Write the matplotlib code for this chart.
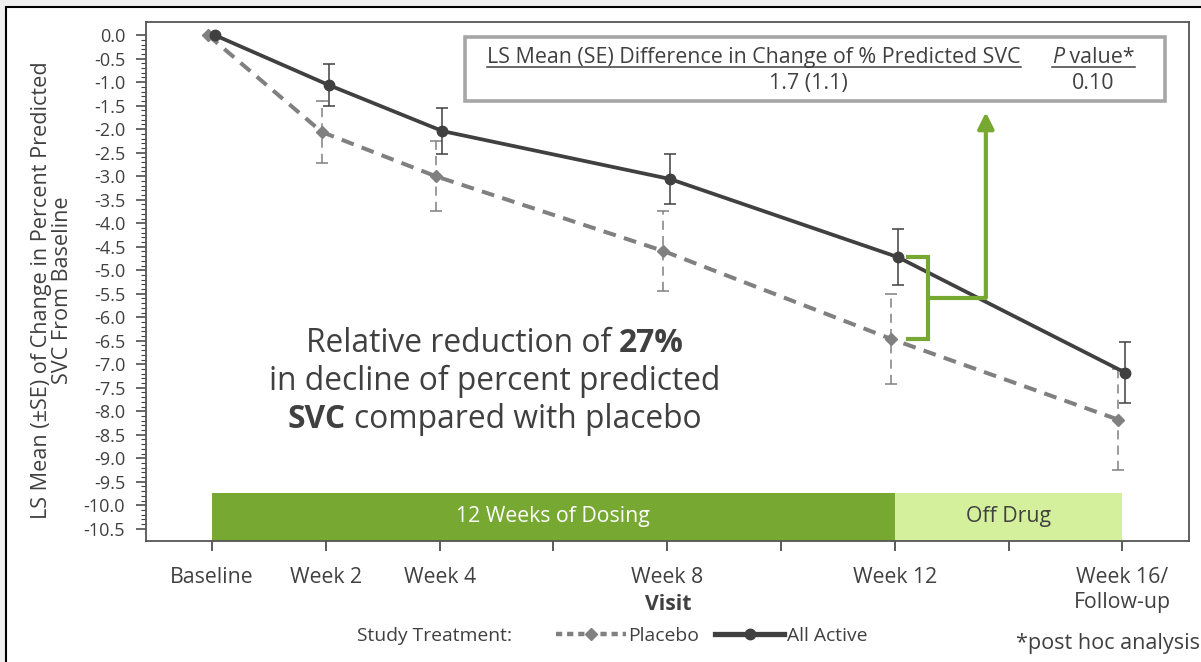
import numpy as np
import matplotlib.pyplot as plt
from matplotlib.lines import Line2D
from matplotlib.patches import Rectangle
from matplotlib.transforms import offset_copy

plt.rcParams['font.family'] = ['Open Sans', 'DejaVu Sans']

# data
weeks = [0, 2, 4, 8, 12, 16]
week_labels = ['Baseline', 'Week 2', 'Week 4', 'Week 8', 'Week 12', 'Week 16/\nFollow-up']
active_mean = [0.0, -1.06, -2.04, -3.06, -4.72, -7.18]
active_se = [0.0, 0.45, 0.49, 0.54, 0.60, 0.65]
placebo_mean = [0.0, -2.06, -3.00, -4.59, -6.46, -8.18]
placebo_se = [0.0, 0.66, 0.75, 0.86, 0.96, 1.08]
phase_start = [0, 12]
phase_end = [12, 16]
phase_names = ['12 Weeks of Dosing', 'Off Drug']

dark = '#404040'
grey = '#808080'
green = '#76a832'
light_green = '#d4f09c'

fig = plt.figure(figsize=(12.01, 6.62), dpi=100, facecolor='#f0f0f0')
# white panel with a black frame (picture is a crop of a framed slide)
fig.patches.append(Rectangle((6 / 1201, -0.1), 1.2, 1.1 - 7 / 662, transform=fig.transFigure,
                             facecolor='white', edgecolor='black', lw=1.5, zorder=-10))
ax = fig.add_axes([146 / 1201, 1 - 541 / 662, 1043 / 1201, 519 / 662])
ax.set_facecolor('white')

ylo, yhi = -10.76, 0.28
ax.set_xlim(-1.16, 17.17)
ax.set_ylim(ylo, yhi)

w = np.array(weeks, dtype=float)
am = np.array(active_mean)
pm = np.array(placebo_mean)

# phase bars
for s, e, name in zip(phase_start, phase_end, phase_names):
    col = green if s == 0 else light_green
    ax.bar(s, -9.73 - ylo, width=e - s, bottom=ylo, align='edge', color=col, zorder=1)
    ax.text((s + e) / 2, (-9.73 + ylo) / 2, name, ha='center', va='center', fontsize=15.3,
            color='white' if s == 0 else dark, zorder=2)

# placebo
px = w - 0.07
ax.plot(px, pm, color=grey, lw=2.9, dashes=(3.2, 2.1), marker='D', ms=6.5, zorder=4)
eb = ax.errorbar(px[1:], pm[1:], yerr=placebo_se[1:], fmt='none', ecolor=grey, elinewidth=1.1,
                 capsize=4.5, capthick=1.1, zorder=3)
eb[2][0].set_linestyle((0, (6, 4)))

# active
ax_ = w + 0.05
ax.plot(ax_, am, color=dark, lw=2.7, marker='o', ms=7.5, zorder=6)
ax.errorbar(ax_[1:], am[1:], yerr=active_se[1:], fmt='none', ecolor=dark, elinewidth=1.1,
            capsize=4.5, capthick=1.1, zorder=5)

# green bracket + arrow
top, bot = am[4], pm[4]
mid = (top + bot) / 2
ax.plot([12.23, 12.58, 12.58, 12.23], [top, top, bot, bot], color=green, lw=3,
        solid_joinstyle='miter', zorder=7)
ax.plot([12.58, 13.6], [mid, mid], color=green, lw=3, zorder=7, solid_capstyle='butt')
ax.annotate('', xy=(13.6, -1.64), xytext=(13.6, mid),
            arrowprops=dict(arrowstyle='-|>', lw=3, color=green, mutation_scale=24,
                            shrinkA=0, shrinkB=0), zorder=7)

# axes styling
for sp in ax.spines.values():
    sp.set_color('#555555')
    sp.set_linewidth(1.3)
ax.set_xticks(np.arange(0, 17, 2))
ax.set_xticklabels(['' if t not in weeks else week_labels[weeks.index(t)] for t in range(0, 17, 2)])
ax.set_yticks(np.arange(0, -10.51, -0.5))
ax.set_yticklabels(['%.1f' % v for v in np.arange(0, -10.51, -0.5)])
ax.set_yticks(np.arange(0, -10.51, -0.1), minor=True)
ax.tick_params(axis='x', length=7, width=1.2, color=dark, labelcolor=dark, labelsize=15.3, pad=12)
ax.tick_params(axis='y', which='major', length=7, width=1.1, color=dark, labelcolor=dark,
               labelsize=13, pad=8)
ax.tick_params(axis='y', which='minor', length=3.5, width=0.8, color=dark)

fig.text(668 / 1201, 1 - 604 / 662, 'Visit', ha='center', va='center', fontsize=15.3,
         fontweight='bold', color=dark)
fig.text(52 / 1201, 1 - 290 / 662,
         'LS Mean (±SE) of Change in Percent Predicted\nSVC From Baseline',
         rotation=90, ha='center', va='center', multialignment='center', fontsize=15.6,
         color=dark, linespacing=1.0)

# legend
fig.text(512 / 1201, 1 - 636 / 662, 'Study Treatment:', ha='right', va='center', fontsize=13.9,
         color=dark)
handles = [Line2D([], [], color=grey, lw=3.2, dashes=(1.4, 1.1), marker='D', ms=6.5),
           Line2D([], [], color=dark, lw=3.8, marker='o', ms=7.5)]
fig.legend(handles, ['Placebo', 'All Active'], loc='center', bbox_to_anchor=(712 / 1201, 1 - 636 / 662),
           ncol=2, frameon=False, fontsize=13.9, handlelength=3.6, handletextpad=0.15,
           columnspacing=0.8, labelcolor=dark)
fig.text(0.999, 1 - 643 / 662, '*post hoc analysis', ha='right', va='center', fontsize=15.6,
         color=dark)

# result box
ax.add_patch(Rectangle((0.306, 0.848), 0.671, 0.123, transform=ax.transAxes, facecolor='white',
                       edgecolor='#a6a6a6', lw=2.6, zorder=8))
fig.canvas.draw()
r = fig.canvas.get_renderer()
inv = fig.transFigure.inverted()

box_fs = 15.4
h1 = ax.text(0.327, 0.931, 'LS Mean (SE) Difference in Change of % Predicted SVC', transform=ax.transAxes,
             ha='left', va='center', fontsize=box_fs, color=dark, zorder=9)
p1 = ax.text(0.869, 0.931, 'P', transform=ax.transAxes, ha='left', va='center', fontsize=box_fs,
             color=dark, style='italic', zorder=9)
pw = p1.get_window_extent(r).width
p2 = ax.text(0.869, 0.931, ' value*', transform=offset_copy(ax.transAxes, fig, x=pw, units='dots'),
             ha='left', va='center', fontsize=box_fs, color=dark, zorder=9)
ax.text(0.635, 0.881, '1.7 (1.1)', transform=ax.transAxes, ha='center', va='center', fontsize=box_fs,
        color=dark, zorder=9)
ax.text(0.908, 0.881, '0.10', transform=ax.transAxes, ha='center', va='center', fontsize=box_fs,
        color=dark, zorder=9)
fig.canvas.draw()

# underlines
for a, b in [(h1, h1), (p1, p2)]:
    ba = a.get_window_extent(r)
    bb = b.get_window_extent(r)
    (ux0, uy), (ux1, _) = inv.transform([(ba.x0, ba.y0 + 1), (bb.x1, ba.y0)])
    fig.add_artist(Line2D([ux0, ux1], [uy, uy], color=dark, lw=1.1, zorder=10))


# centred message with bold parts
def mixed_line(x, y, parts, size):
    probe = ax.text(0, 0, 'x x', fontsize=size)
    probe2 = ax.text(0, 0, 'xx', fontsize=size)
    sp = probe.get_window_extent(r).width - probe2.get_window_extent(r).width
    probe.remove()
    probe2.remove()
    items = []
    total = 0
    for s, wt in parts:
        t = ax.text(x, y, s.strip(), transform=ax.transAxes, ha='left', va='center', fontsize=size,
                    fontweight=wt, color=dark, zorder=9)
        wdt = t.get_window_extent(r).width
        lead = sp if s.startswith(' ') else 0
        trail = sp if s.endswith(' ') else 0
        items.append((t, total + lead))
        total += lead + wdt + trail
    for t, off in items:
        t.set_transform(offset_copy(ax.transAxes, fig, x=off - total / 2, units='dots'))


fs = 22.9
mixed_line(0.3346, 0.3815, [('Relative reduction of ', 'normal'), ('27%', 'bold')], fs)
mixed_line(0.3346, 0.308, [('in decline of percent predicted', 'normal')], fs)
mixed_line(0.3346, 0.235, [('SVC', 'bold'), (' compared with placebo', 'normal')], fs)

fig.savefig('out.png', dpi=100, facecolor=fig.get_facecolor())
